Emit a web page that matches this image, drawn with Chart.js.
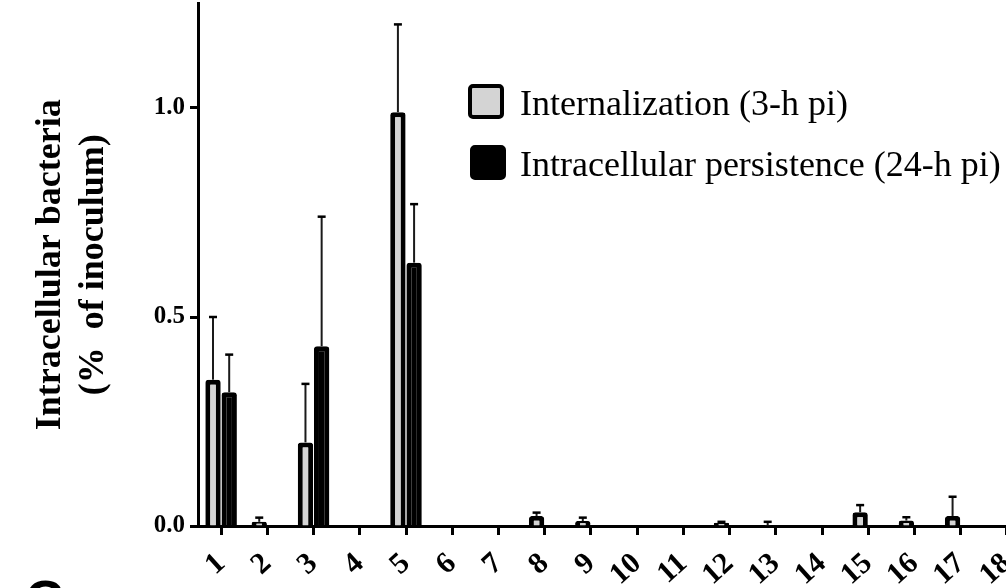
<!DOCTYPE html>
<html>
<head>
<meta charset="utf-8">
<script src="https://cdn.jsdelivr.net/npm/chart.js@4/dist/chart.umd.min.js"></script>
<style>
  html, body { margin: 0; padding: 0; background: #fff; overflow: hidden; }
  #wrap { position: absolute; left: 0; top: 0; width: 1040px; height: 588px; }
</style>
</head>
<body>
<div id="wrap"><canvas id="reportCanvas" width="1040" height="588"></canvas></div>
<script>
  // strains on the x axis (the figure is cut off after 18)
  let strains = ['1', '2', '3', '4', '5', '6', '7', '8', '9', '10', '11', '12', '13', '14', '15', '16', '17', '18'];

  // internalization, 3-h pi (mean and SD, % of inoculum)
  let internalization = [0.35, 0.01, 0.20, 0, 0.99, 0, 0, 0.024, 0.012, 0, 0, 0.008, 0.002, 0, 0.033, 0.013, 0.024, 0];
  let internalizationSD = [0.15, 0.01, 0.14, 0, 0.21, 0, 0, 0.008, 0.008, 0, 0, 0.002, 0.008, 0, 0.017, 0.008, 0.046, 0];

  // intracellular persistence, 24-h pi
  let persistence = [0.32, 0, 0.43, 0, 0.63, 0, 0, 0, 0, 0, 0, 0, 0, 0, 0, 0, 0, 0];
  let persistenceSD = [0.09, 0, 0.31, 0, 0.14, 0, 0, 0, 0, 0, 0, 0, 0, 0, 0, 0, 0, 0];

  let yTicks = [0, 0.5, 1.0];

  let serif = "'Liberation Serif', 'Times New Roman', serif";

  Chart.defaults.font.family = serif;
  Chart.defaults.color = '#000';

  // SD whiskers on top of each bar
  let errorBars = {
    id: 'errorBars',
    afterDatasetsDraw(chart) {
      let ctx = chart.ctx;
      let yScale = chart.scales.y;
      ctx.save();
      chart.data.datasets.forEach((dataset, i) => {
        let meta = chart.getDatasetMeta(i);
        meta.data.forEach((bar, j) => {
          let sd = dataset.sd[j];
          if (!sd) return;
          let yTop = yScale.getPixelForValue(dataset.data[j] + sd);
          ctx.strokeStyle = '#1a1a1a';
          ctx.lineWidth = 2;
          ctx.beginPath();
          ctx.moveTo(bar.x, bar.y);
          ctx.lineTo(bar.x, yTop);
          ctx.stroke();
          ctx.strokeStyle = '#000';
          ctx.lineWidth = 2.5;
          ctx.beginPath();
          ctx.moveTo(bar.x - 4, yTop);
          ctx.lineTo(bar.x + 4, yTop);
          ctx.stroke();
        });
      });
      ctx.restore();
    }
  };

  // legend drawn inside the plot like the original figure
  let boxLegend = {
    id: 'boxLegend',
    afterDraw(chart) {
      let ctx = chart.ctx;
      let rows = [{ x: 468, y: 84, base: 115 }, { x: 470, y: 145, base: 176 }];
      ctx.save();
      chart.data.datasets.forEach((dataset, i) => {
        let row = rows[i];
        ctx.fillStyle = dataset.backgroundColor;
        ctx.strokeStyle = '#000';
        ctx.lineWidth = 4;
        ctx.beginPath();
        ctx.roundRect(row.x + 2, row.y + 2, 32, 31, 3);
        ctx.fill();
        ctx.stroke();
        ctx.fillStyle = '#000';
        ctx.font = '36px ' + serif;
        ctx.textBaseline = 'alphabetic';
        ctx.textAlign = 'left';
        ctx.fillText(dataset.label, 520, row.base);
      });
      // panel letter, mostly cut off at the bottom
      ctx.font = "bold 54px 'Liberation Sans', sans-serif";
      ctx.textBaseline = 'top';
      ctx.fillText('C', 25, 576);
      ctx.restore();
    }
  };

  let context = document.getElementById('reportCanvas').getContext('2d');

  new Chart(context, {
    type: 'bar',
    data: {
      labels: strains,
      datasets: [{
        label: 'Internalization (3-h pi)',
        data: internalization,
        sd: internalizationSD,
        backgroundColor: '#d4d4d4',
        borderColor: '#000',
        borderWidth: 5,
        borderSkipped: 'start',
        borderRadius: { topLeft: 3, topRight: 3 },
        categoryPercentage: 0.7,
        barPercentage: 0.95
      }, {
        label: 'Intracellular persistence (24-h pi)',
        data: persistence,
        sd: persistenceSD,
        backgroundColor: '#000',
        borderColor: '#000',
        borderWidth: 5,
        borderSkipped: 'start',
        borderRadius: { topLeft: 3, topRight: 3 },
        categoryPercentage: 0.7,
        barPercentage: 0.95
      }]
    },
    options: {
      responsive: false,
      animation: false,
      devicePixelRatio: 1,
      layout: { padding: { top: 3.5, right: 10, bottom: 0, left: 0 } },
      plugins: {
        legend: { display: false },
        tooltip: { enabled: false }
      },
      scales: {
        x: {
          offset: true,
          grid: {
            offset: false,
            drawOnChartArea: false,
            tickLength: 9,
            tickWidth: 3,
            tickColor: '#000'
          },
          border: { display: true, width: 3, color: '#000' },
          ticks: {
            autoSkip: false,
            minRotation: 42,
            maxRotation: 42,
            padding: 11,
            font: { size: 30, weight: 'bold' }
          },
          afterFit(scale) {
            scale.height = 62;
            scale.paddingLeft = 0;
            scale.paddingRight = 0;
          }
        },
        y: {
          min: 0,
          max: 1.25,
          grid: {
            drawOnChartArea: false,
            tickLength: 8,
            tickWidth: 3,
            tickColor: '#000'
          },
          border: { display: true, width: 3, color: '#000' },
          ticks: {
            padding: 5,
            font: { size: 25, weight: 'bold' },
            callback(value) {
              return Number(value).toFixed(1);
            }
          },
          afterBuildTicks(scale) {
            scale.ticks = yTicks.map((v) => ({ value: v }));
          },
          title: {
            display: true,
            text: ['Intracellular bacteria', '(%  of inoculum)'],
            font: { size: 36, weight: 'bold', lineHeight: 1.2 },
            padding: { top: 29, bottom: 0 }
          },
          afterFit(scale) {
            scale.width = 198;
            scale.paddingTop = 0;
            scale.paddingBottom = 0;
          }
        }
      }
    },
    plugins: [errorBars, boxLegend]
  });
</script>
</body>
</html>
